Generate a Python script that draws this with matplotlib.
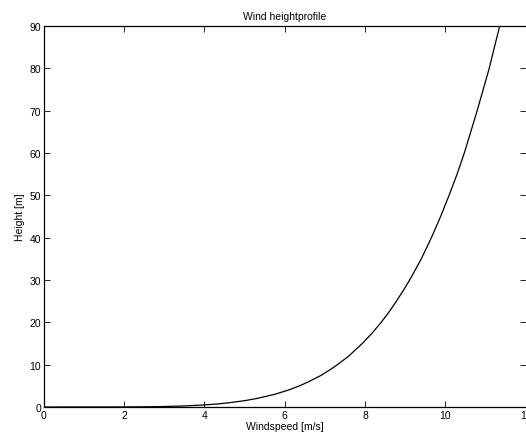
import matplotlib

matplotlib.use("Agg")
import matplotlib.pyplot as plt

# Wind speed profile over height (power-law shape), sampled points
height = [0, 0.01, 0.05, 0.1, 0.25, 0.5, 0.75, 1, 1.5, 2, 3, 4, 5, 6, 7.5,
          8, 9, 10, 12, 15, 17.5, 20, 22.5, 25, 27.5, 30, 35, 40, 45, 50,
          55, 60, 65, 70, 75, 80, 85, 90]
windspeed = [0, 1.84, 2.54, 2.91, 3.50, 4.02, 4.36, 4.61, 5.00, 5.30, 5.75,
             6.09, 6.37, 6.60, 6.91, 6.99, 7.16, 7.31, 7.59, 7.93, 8.18,
             8.40, 8.60, 8.78, 8.95, 9.11, 9.40, 9.65, 9.88, 10.09, 10.29,
             10.47, 10.63, 10.79, 10.94, 11.09, 11.22, 11.35]

xticks = [0, 2, 4, 6, 8, 10, 12]
yticks = [0, 10, 20, 30, 40, 50, 60, 70, 80, 90]

plt.rcParams["font.family"] = ["Liberation Sans", "DejaVu Sans"]
FS = 7.5

fig = plt.figure(figsize=(5.26, 4.39), dpi=100)
ax = fig.add_axes([0.0831, 0.0706, 0.9165, 0.868])

ax.plot(windspeed, height, color="black", linewidth=0.9)

ax.set_xlim(0, 12)
ax.set_ylim(0, 90)
ax.set_xticks(xticks)
ax.set_yticks(yticks)
ax.tick_params(direction="in", length=4, width=0.6, labelsize=FS,
               top=True, right=True, pad=2)
for s in ax.spines.values():
    s.set_linewidth(0.9)
# the right-hand frame edge falls on the figure border
ax.spines["right"].set_visible(False)

ax.set_title("Wind heightprofile", fontsize=FS, pad=5)
ax.set_xlabel("Windspeed [m/s]", fontsize=FS, labelpad=1)
ax.set_ylabel("Height [m]", fontsize=FS, labelpad=3)

fig.savefig("out.png", dpi=100)
